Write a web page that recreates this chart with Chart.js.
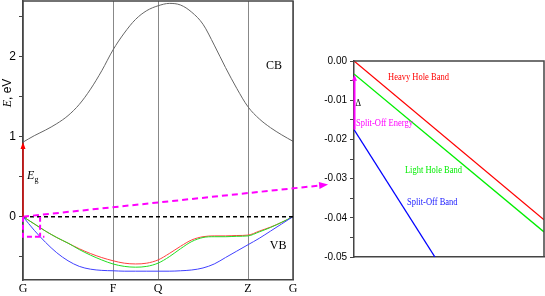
<!DOCTYPE html>
<html><head><meta charset="utf-8">
<script src="https://cdn.jsdelivr.net/npm/chart.js@4"></script>
<style>
html,body{margin:0;padding:0;background:#fff;}
#wrap{position:relative;width:545px;height:296px;}
canvas{position:absolute;left:0;top:0;}
</style></head><body>
<div id="wrap"><canvas id="band" width="545" height="296"></canvas><canvas id="zoom" width="545" height="296"></canvas></div>
<script>
// ---- Band structure along G-F-Q-Z-G (left panel) ----
const kPath = [0, 0.25, 0.5, 0.75, 1, 1.25, 1.5, 1.75, 2, 2.25, 2.5, 2.75, 3, 3.25, 3.5, 3.75, 4, 4.25, 4.5, 4.75, 5, 5.25, 5.5, 5.75, 6];
const cbE = [0.93, 1.01, 1.08, 1.16, 1.26, 1.40, 1.59, 1.82, 2.08, 2.29, 2.46, 2.57, 2.63, 2.66, 2.64, 2.55, 2.40, 2.14, 1.86, 1.60, 1.37, 1.22, 1.11, 1.02, 0.94];
const hhE = [0, -0.09, -0.18, -0.26, -0.33, -0.40, -0.46, -0.51, -0.55, -0.58, -0.59, -0.58, -0.54, -0.46, -0.37, -0.29, -0.25, -0.24, -0.24, -0.235, -0.23, -0.18, -0.13, -0.07, 0];
const lhE = [0, -0.09, -0.18, -0.26, -0.33, -0.41, -0.48, -0.54, -0.59, -0.62, -0.63, -0.62, -0.58, -0.50, -0.40, -0.31, -0.26, -0.25, -0.25, -0.245, -0.24, -0.19, -0.135, -0.07, 0];
const soE = [0, -0.17, -0.32, -0.45, -0.55, -0.62, -0.655, -0.67, -0.675, -0.68, -0.68, -0.68, -0.68, -0.68, -0.675, -0.665, -0.64, -0.59, -0.51, -0.43, -0.35, -0.27, -0.18, -0.09, 0];
const symPos = [0, 2, 3, 5, 6];
const symLabels = ['G', 'F', 'Q', 'Z', 'G'];
const bandGap = 0.93;
// zoomed region marked in left panel (k extent, energy extent)
const boxK = 0.38, boxE = -0.25;
// pointer arrow end (left panel data units)
const pointerEnd = [6.78, 0.40];

// ---- Zoom near G (right panel) ----
const zK = [0, 1];
const zHH = [0, -0.0405];
const zLH = [-0.0033, -0.0436];
const zSOK = [0, 0.426];
const zSO = [-0.0175, -0.05];
const splitOff = [-0.0175, -0.0035];

const pts = (xs, ys) => xs.map((x, i) => ({x, y: ys[i]}));

function arrowHead(ctx, x0, y0, x1, y1, len, half, color) {
  const ang = Math.atan2(y1 - y0, x1 - x0);
  ctx.save();
  ctx.setLineDash([]);
  ctx.fillStyle = color;
  ctx.translate(x1, y1); ctx.rotate(ang);
  ctx.beginPath(); ctx.moveTo(0, 0); ctx.lineTo(-len, -half); ctx.lineTo(-len, half); ctx.closePath(); ctx.fill();
  ctx.restore();
}
const noPad = s => { s.paddingTop = 0; s.paddingBottom = 0; s.paddingLeft = 0; s.paddingRight = 0; };

const bandDecor = {
  id: 'bandDecor',
  afterDatasetsDraw(chart) {
    const {ctx, chartArea: a, scales: {x, y}} = chart;
    ctx.save();
    // frame
    ctx.strokeStyle = '#444'; ctx.lineWidth = 1.5;
    ctx.beginPath(); ctx.moveTo(a.left, a.top); ctx.lineTo(a.right, a.top); ctx.lineTo(a.right, a.bottom); ctx.stroke();
    // zero line
    const y0 = y.getPixelForValue(0), x0 = x.getPixelForValue(0);
    ctx.setLineDash([4, 3]); ctx.strokeStyle = '#000'; ctx.lineWidth = 1.5;
    ctx.beginPath(); ctx.moveTo(a.left, y0); ctx.lineTo(a.right, y0); ctx.stroke();
    // magenta box
    ctx.strokeStyle = '#ff00ff'; ctx.lineWidth = 2; ctx.setLineDash([5, 3]);
    const bx = x.getPixelForValue(boxK), by = y.getPixelForValue(boxE);
    ctx.beginPath();
    ctx.moveTo(x0, y0); ctx.lineTo(x0, by); ctx.lineTo(x.getPixelForValue(boxK * 1.25), by);
    ctx.moveTo(bx, y0); ctx.lineTo(bx, by);
    ctx.stroke();
    // pointer
    const px = x.getPixelForValue(pointerEnd[0]), py = y.getPixelForValue(pointerEnd[1]);
    ctx.setLineDash([6, 4]);
    ctx.beginPath(); ctx.moveTo(x0, y0); ctx.lineTo(px - 6, py + 0.7); ctx.stroke();
    arrowHead(ctx, x0, y0, px, py, 9, 3.5, '#ff00ff');
    // Eg arrow
    ctx.setLineDash([]); ctx.strokeStyle = '#ff0000'; ctx.lineWidth = 1.2;
    const ge = y.getPixelForValue(bandGap);
    ctx.beginPath(); ctx.moveTo(x0, y0); ctx.lineTo(x0, ge + 4); ctx.stroke();
    arrowHead(ctx, x0, y0, x0, ge, 7, 2.5, '#ff0000');
    // texts
    ctx.fillStyle = '#000';
    ctx.textBaseline = 'middle';
    ctx.font = '12px "Liberation Serif"';
    ctx.textAlign = 'center';
    ctx.fillText('CB', x.getPixelForValue(5.58), y.getPixelForValue(1.875));
    ctx.fillText('VB', x.getPixelForValue(5.67), y.getPixelForValue(-0.36));
    ctx.textAlign = 'left';
    ctx.font = 'italic 12px "Liberation Serif"';
    const ex = x.getPixelForValue(0.09), ey = y.getPixelForValue(0.51);
    ctx.fillText('E', ex, ey);
    const ew = ctx.measureText('E').width;
    ctx.font = '8px "Liberation Serif"';
    ctx.fillText('g', ex + ew, ey + 4);
    // axis title
    ctx.save();
    ctx.translate(8, 93); ctx.rotate(-Math.PI / 2);
    ctx.font = 'italic 12px "Liberation Serif"';
    const w1 = ctx.measureText('E').width;
    ctx.font = '12px "Liberation Sans"';
    const w2 = ctx.measureText(', eV').width;
    const sx = -(w1 + w2) / 2;
    ctx.font = 'italic 12px "Liberation Serif"';
    ctx.fillText('E', sx, 0);
    ctx.font = '12px "Liberation Sans"';
    ctx.fillText(', eV', sx + w1, 0);
    ctx.restore();
    ctx.restore();
  }
};

const lineDs = (label, xs, ys, color, w) => ({label, data: pts(xs, ys), borderColor: color, borderWidth: w, pointRadius: 0, cubicInterpolationMode: 'monotone', fill: false});

new Chart(document.getElementById('band'), {
  type: 'line',
  data: {datasets: [
    lineDs('CB', kPath, cbE, '#666', 1),
    lineDs('SO', kPath, soE, '#4040ff', 1),
    lineDs('LH', kPath, lhE, '#22dd22', 1),
    lineDs('HH', kPath, hhE, '#ff4040', 1)
  ]},
  options: {
    responsive: false, animation: false, devicePixelRatio: 1,
    layout: {padding: {left: 0, top: 1, right: 252, bottom: 0}},
    plugins: {legend: {display: false}, tooltip: {enabled: false}},
    scales: {
      x: {type: 'linear', min: 0, max: 6,
        afterBuildTicks: s => { s.ticks = symPos.map(v => ({value: v})); },
        afterFit: s => { s.height = 16; noPad(s); },
        ticks: {callback: (v, i) => symLabels[i], color: '#000', font: {family: 'Liberation Serif', size: 12}, padding: 2, maxRotation: 0, autoSkip: false},
        grid: {color: '#888', lineWidth: 1, drawTicks: false},
        border: {color: '#444', width: 1.5}
      },
      y: {min: -0.79, max: 2.69,
        afterFit: s => { s.width = 23; noPad(s); },
        ticks: {stepSize: 0.5, includeBounds: false, color: '#000', padding: 3,
          font: {family: 'Liberation Sans', size: 12},
          callback: v => Math.abs(v - Math.round(v)) < 1e-6 ? String(Math.round(v)) : ''},
        grid: {drawOnChartArea: false, tickLength: 4, color: '#444'},
        border: {color: '#444', width: 1.5}
      }
    }
  },
  plugins: [bandDecor]
});

const zoomDecor = {
  id: 'zoomDecor',
  afterDatasetsDraw(chart) {
    const {ctx, chartArea: a, scales: {x, y}} = chart;
    ctx.save();
    ctx.strokeStyle = '#444'; ctx.lineWidth = 1.5;
    ctx.beginPath(); ctx.moveTo(a.left, a.top); ctx.lineTo(a.right, a.top); ctx.lineTo(a.right, a.bottom); ctx.stroke();
    // split-off arrow
    const x0 = x.getPixelForValue(0);
    const yb = y.getPixelForValue(splitOff[0]), yt = y.getPixelForValue(splitOff[1]);
    ctx.strokeStyle = '#ff00ff'; ctx.lineWidth = 2;
    ctx.beginPath(); ctx.moveTo(x0 + 0.5, yb); ctx.lineTo(x0 + 0.5, yt + 5); ctx.stroke();
    arrowHead(ctx, x0 + 0.5, yb, x0 + 0.5, yt, 6, 2.5, '#ff00ff');
    // labels
    ctx.textBaseline = 'middle'; ctx.textAlign = 'left';
    const lab = (t, kx, e, col) => {
      ctx.save();
      ctx.translate(x.getPixelForValue(kx), y.getPixelForValue(e));
      ctx.scale(0.85, 1);
      ctx.fillStyle = col; ctx.font = '10px "Liberation Serif"';
      ctx.fillText(t, 0, 0);
      ctx.restore();
    };
    lab('Heavy Hole Band', 0.179, -0.0041, '#ff0000');
    lab('Light Hole Band', 0.268, -0.0278, '#00ee00');
    lab('Split-Off Band', 0.279, -0.036, '#2020ff');
    lab('Split-Off Energy', 0.01, -0.0158, '#ff00ff');
    lab('\u0394', 0.008, -0.0107, '#000');
    ctx.restore();
  }
};

new Chart(document.getElementById('zoom'), {
  type: 'line',
  data: {datasets: [
    {data: pts(zK, zHH), borderColor: '#ff0000', borderWidth: 1.3, pointRadius: 0, tension: 0},
    {data: pts(zK, zLH), borderColor: '#00ee00', borderWidth: 1.3, pointRadius: 0, tension: 0},
    {data: pts(zSOK, zSO), borderColor: '#0000ff', borderWidth: 1.3, pointRadius: 0, tension: 0}
  ]},
  options: {
    responsive: false, animation: false, devicePixelRatio: 1,
    layout: {padding: {left: 300, top: 61, right: 1, bottom: 39}},
    plugins: {legend: {display: false}, tooltip: {enabled: false}},
    scales: {
      x: {type: 'linear', min: 0, max: 1,
        ticks: {display: false}, grid: {display: false},
        afterFit: s => { s.height = 0; noPad(s); },
        border: {color: '#444', width: 1.5}
      },
      y: {min: -0.05, max: 0,
        afterFit: s => { s.width = 54; noPad(s); },
        ticks: {stepSize: 0.005, includeBounds: false, color: '#000', padding: 3,
          font: {family: 'Liberation Sans', size: 10},
          callback: v => { const c = v * 100; return Math.abs(c - Math.round(c)) < 1e-6 ? (Math.round(c) === 0 ? '0.00' : (Math.round(c) / 100).toFixed(2)) : ''; }},
        grid: {drawOnChartArea: false, tickLength: 4, color: '#444'},
        border: {color: '#444', width: 1.5}
      }
    }
  },
  plugins: [zoomDecor]
});
</script>
</body></html>
